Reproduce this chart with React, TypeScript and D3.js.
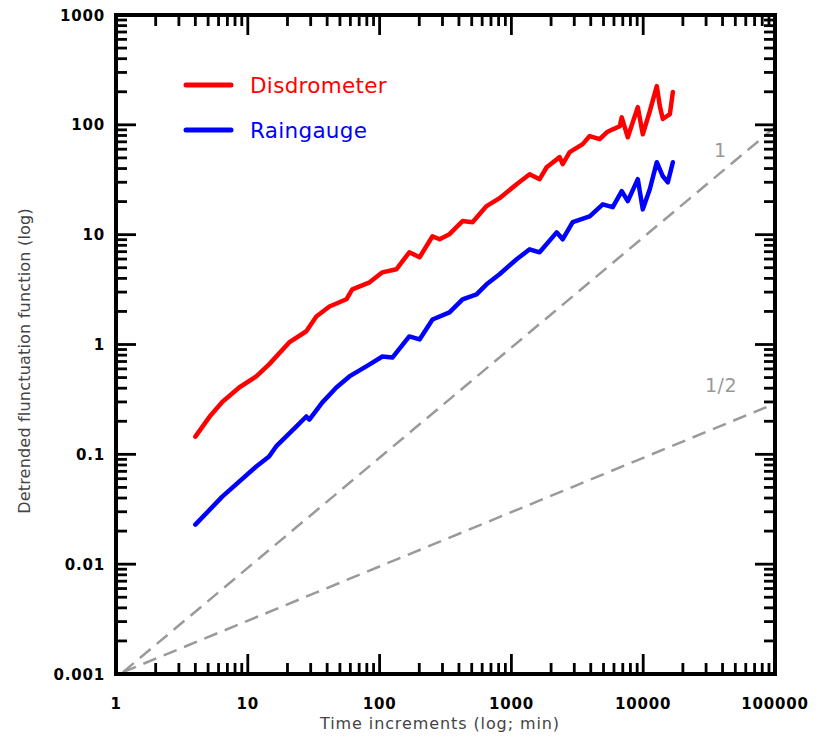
import React from "react";
import * as d3 from "d3";

const dispX = [4, 5.2, 6.4, 8.6, 11.6, 14.5, 20.6, 27.8, 33.1, 41.6, 56, 62, 84, 105, 134, 168, 201, 252, 285, 339, 426, 507, 648, 813, 1096, 1375, 1637, 1851, 2323, 2449, 2768, 3475, 3927, 4677, 5288, 5875, 6640, 6875, 7640, 9100, 9930, 11220, 12680, 13370, 14090, 15930, 16790];
const dispY = [0.145, 0.225, 0.3, 0.406, 0.512, 0.659, 1.045, 1.32, 1.8, 2.22, 2.58, 3.18, 3.68, 4.54, 4.84, 6.91, 6.22, 9.67, 9.08, 10.1, 13.3, 13.0, 18.2, 21.5, 28.8, 35.5, 32, 41.1, 50.8, 43.9, 56.4, 66.7, 79, 74, 85.5, 91, 97, 117, 77, 145, 82, 133, 225, 148, 113, 125, 199];

const gaugeX = [4, 6.4, 11.6, 14.5, 16.4, 23.3, 27.8, 29.3, 36.8, 47, 59, 84, 105, 125, 168, 201, 252, 339, 426, 544, 648, 813, 1096, 1375, 1637, 2205, 2449, 2917, 3927, 4931, 5875, 6875, 7640, 9100, 9930, 11220, 12680, 14090, 15380, 16790];
const gaugeY = [0.0229, 0.0412, 0.0774, 0.0955, 0.118, 0.179, 0.221, 0.207, 0.297, 0.406, 0.512, 0.659, 0.778, 0.76, 1.185, 1.112, 1.69, 1.96, 2.58, 2.86, 3.53, 4.36, 5.97, 7.36, 6.91, 10.5, 9.08, 13.0, 14.7, 18.9, 17.8, 24.9, 20.2, 32, 17, 25.9, 45.7, 34, 30, 45.7];

const slope1X = [1.13, 100000];
const slope1Y = [0.00104, 95];
const slopeHalfX = [1.13, 100000];
const slopeHalfY = [0.00104, 0.29];

const xTickLabels = ["1", "10", "100", "1000", "10000", "100000"];
const yTickLabels = ["0.001", "0.01", "0.1", "1", "10", "100", "1000"];

const seriesNames = ["Disdrometer", "Raingauge"];
const seriesColors = ["#ff0000", "#0000ff"];

export default function App() {
  const L = 116, R = 775, T = 15, B = 674;
  const x = d3.scaleLog().domain([1, 100000]).range([L, R]);
  const y = d3.scaleLog().domain([0.001, 1000]).range([B, T]);

  const line = d3
    .line<[number, number]>()
    .x((d) => x(d[0]))
    .y((d) => y(d[1]));

  const dispData = dispX.map((v, i) => [v, dispY[i]] as [number, number]);
  const gaugeData = gaugeX.map((v, i) => [v, gaugeY[i]] as [number, number]);
  const s1 = slope1X.map((v, i) => [v, slope1Y[i]] as [number, number]);
  const s2 = slopeHalfX.map((v, i) => [v, slopeHalfY[i]] as [number, number]);

  const xTicks: { v: number; major: boolean }[] = [];
  for (let e = 0; e <= 5; e++) {
    for (let m = 1; m <= 9; m++) {
      const v = m * Math.pow(10, e);
      if (v > 100000) break;
      xTicks.push({ v, major: m === 1 });
    }
  }
  const yTicks: { v: number; major: boolean }[] = [];
  for (let e = -3; e <= 3; e++) {
    for (let m = 1; m <= 9; m++) {
      const v = m * Math.pow(10, e);
      if (v > 1000.0001) break;
      yTicks.push({ v, major: m === 1 });
    }
  }
  const majorLen = 20;
  const minorLen = 11;
  const tickW = 2.8;

  const labelFont = "DejaVu Sans, sans-serif";

  return (
    <svg
      width={816}
      height={736}
      style={{ position: "absolute", left: 0, top: 0, background: "#fff" }}
    >
      <rect x={0} y={0} width={816} height={736} fill="#fff" />
      {/* reference slope lines */}
      <path d={line(s1) || ""} fill="none" stroke="#9a9a9a" strokeWidth={2.5} strokeDasharray="14 8" />
      <path d={line(s2) || ""} fill="none" stroke="#9a9a9a" strokeWidth={2.5} strokeDasharray="14 8" />
      <text x={720} y={157} fontFamily={labelFont} fontSize={19} fill="#999" textAnchor="middle">1</text>
      <text x={721} y={392} fontFamily={labelFont} fontSize={19} fill="#999" textAnchor="middle" letterSpacing={0.5}>1/2</text>

      {/* data */}
      <path d={line(dispData) || ""} fill="none" stroke={seriesColors[0]} strokeWidth={4.5} strokeLinejoin="round" strokeLinecap="round" />
      <path d={line(gaugeData) || ""} fill="none" stroke={seriesColors[1]} strokeWidth={4.5} strokeLinejoin="round" strokeLinecap="round" />

      {/* legend */}
      {seriesNames.map((n, i) => (
        <g key={n}>
          <line x1={186} x2={231} y1={85 + i * 45} y2={85 + i * 45} stroke={seriesColors[i]} strokeWidth={5} strokeLinecap="round" />
          <text x={250} y={85 + i * 45 + 8} fontFamily={labelFont} fontSize={21.5} fill={seriesColors[i]} letterSpacing={0.3}>{n}</text>
        </g>
      ))}

      {/* ticks */}
      {xTicks.map((t, i) => {
        const px = x(t.v);
        const len = t.major ? majorLen : minorLen;
        return (
          <g key={"xt" + i}>
            <line x1={px} x2={px} y1={B} y2={B - len} stroke="#000" strokeWidth={tickW} />
            <line x1={px} x2={px} y1={T} y2={T + len} stroke="#000" strokeWidth={tickW} />
          </g>
        );
      })}
      {yTicks.map((t, i) => {
        const py = y(t.v);
        const len = t.major ? majorLen : minorLen;
        return (
          <g key={"yt" + i}>
            <line x1={L} x2={L + len} y1={py} y2={py} stroke="#000" strokeWidth={tickW} />
            <line x1={R} x2={R - len} y1={py} y2={py} stroke="#000" strokeWidth={tickW} />
          </g>
        );
      })}
      <rect x={L} y={T} width={R - L} height={B - T} fill="none" stroke="#000" strokeWidth={4} />

      {/* tick labels */}
      {xTickLabels.map((s, i) => (
        <text key={"xl" + i} x={x(Math.pow(10, i))} y={709} fontFamily={labelFont} fontWeight="bold" fontSize={15} textAnchor="middle" letterSpacing={0.8}>{s}</text>
      ))}
      {yTickLabels.map((s, i) => (
        <text key={"yl" + i} x={105} y={y(Math.pow(10, i - 3)) + 5.5} fontFamily={labelFont} fontWeight="bold" fontSize={15} textAnchor="end" letterSpacing={0.8}>{s}</text>
      ))}

      {/* axis titles */}
      <text x={440} y={729} fontFamily={labelFont} fontSize={16} fill="#444" textAnchor="middle" letterSpacing={0.9}>Time increments (log; min)</text>
      <text transform="translate(30,361) rotate(-90)" fontFamily={labelFont} fontSize={16} fill="#444" textAnchor="middle" letterSpacing={0.2}>Detrended flunctuation function (log)</text>
    </svg>
  );
}
